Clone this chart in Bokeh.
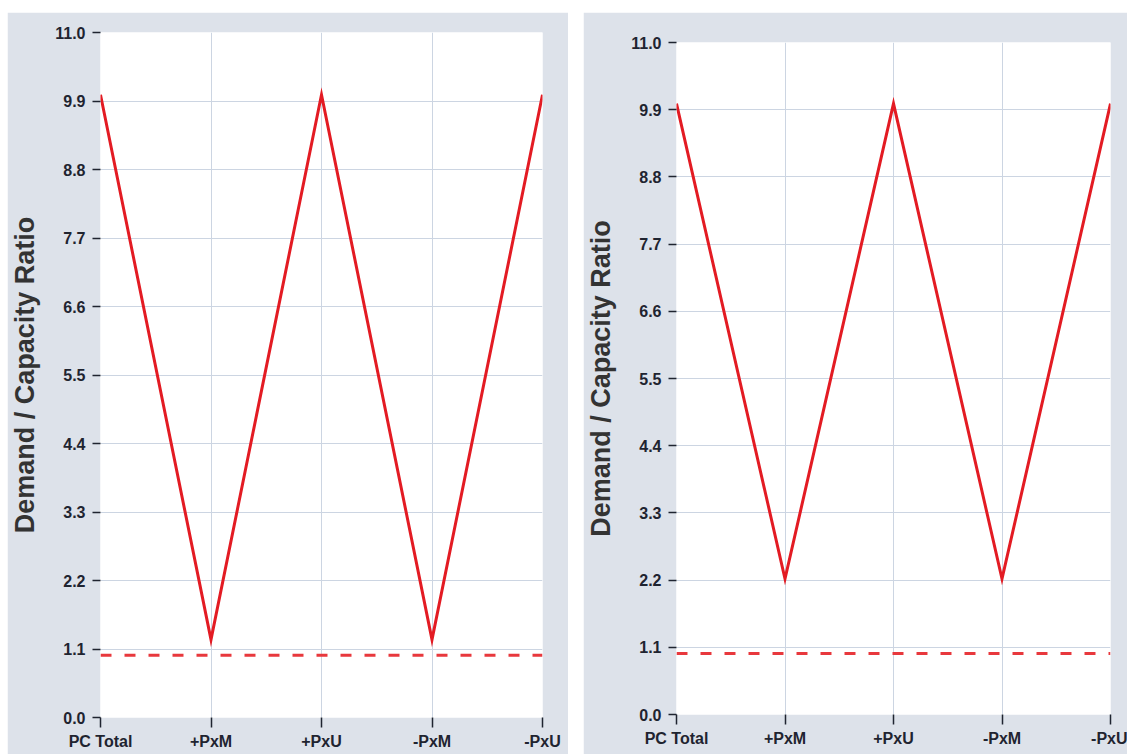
from bokeh.plotting import figure
from bokeh.layouts import row, column
from bokeh.models import FixedTicker
from bokeh.embed import file_html
from bokeh.resources import INLINE

categories = ["PC Total", "+PxM", "+PxU", "-PxM", "-PxU"]
dcr_left = [10.0, 1.25, 10.0, 1.25, 10.0]
dcr_right = [10.0, 2.22, 10.0, 2.22, 10.0]
limit_left = [1.0, 1.0, 1.0, 1.0, 1.0]
limit_right = [1.0, 1.0, 1.0, 1.0, 1.0]
y_ticks = [0.0, 1.1, 2.2, 3.3, 4.4, 5.5, 6.6, 7.7, 8.8, 9.9, 11.0]
y_label = "Demand / Capacity Ratio"

BORDER = "#dde2ea"
GRID = "#ccd5e2"
RED = "#e31b23"
DASH_RED = "#e8383d"
TXT = "#1f2430"


def make_panel(values, limit, width, height, bl, br, bt, bb):
    xs = list(range(len(categories)))
    p = figure(width=width, height=height, output_backend="svg", toolbar_location=None,
               title=None,
               x_range=(xs[0], xs[-1]), y_range=(y_ticks[0], y_ticks[-1]),
               min_border_left=bl, min_border_right=br, min_border_top=bt, min_border_bottom=bb)
    p.border_fill_color = BORDER
    p.background_fill_color = "white"
    p.outline_line_color = None

    p.xaxis.ticker = FixedTicker(ticks=xs)
    p.xaxis.major_label_overrides = {i: c for i, c in enumerate(categories)}
    p.yaxis.ticker = FixedTicker(ticks=y_ticks)
    p.yaxis.major_label_overrides = {t: f"{t:.1f}" for t in y_ticks}

    for ax in (p.xaxis, p.yaxis):
        ax.axis_line_color = None
        ax.major_tick_line_color = TXT
        ax.major_tick_line_width = 1.5
        ax.major_tick_in = 0
        ax.major_tick_out = 8
        ax.minor_tick_line_color = None
        ax.major_label_text_font = "Liberation Sans"
        ax.major_label_text_font_style = "bold"
        ax.major_label_text_font_size = "16px"
        ax.major_label_text_color = TXT
    p.xaxis.major_tick_out = 10
    p.xaxis.major_label_standoff = 5
    p.yaxis.major_label_standoff = 7

    p.yaxis.axis_label = y_label
    p.yaxis.axis_label_text_font = "Liberation Sans"
    p.yaxis.axis_label_text_font_style = "bold"
    p.yaxis.axis_label_text_font_size = "27px"
    p.yaxis.axis_label_text_color = "#333333"
    p.yaxis.axis_label_standoff = 12

    p.xgrid.ticker = FixedTicker(ticks=xs)
    p.ygrid.ticker = FixedTicker(ticks=y_ticks)
    p.grid.grid_line_color = GRID
    p.grid.grid_line_width = 1

    p.line(xs, limit, line_color=DASH_RED, line_width=3, line_dash="11 13")
    p.line(xs, values, line_color=RED, line_width=3, line_join="miter")
    return p


p1 = make_panel(dcr_left, limit_left, 561, 742, 93, 26, 20, 37)
p2 = make_panel(dcr_right, limit_right, 544, 742, 91, 17, 30, 40)

c1 = column(p1, margin=(12, 0, 0, 7))
c2 = column(p2, margin=(12, 0, 0, 15))
layout = row(c1, c2)
open("out.html", "w").write(file_html(layout, INLINE))
